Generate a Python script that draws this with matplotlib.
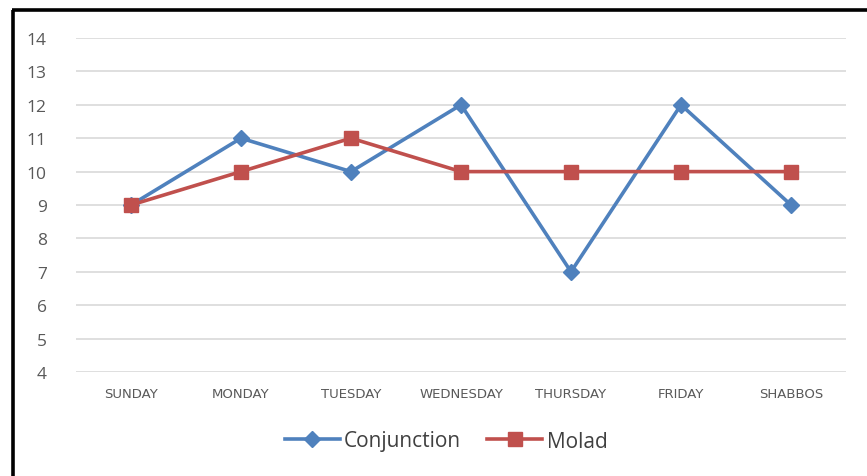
import matplotlib
matplotlib.use("Agg")
import matplotlib.pyplot as plt
from matplotlib.lines import Line2D

days = ["SUNDAY", "MONDAY", "TUESDAY", "WEDNESDAY", "THURSDAY", "FRIDAY", "SHABBOS"]
conjunction = [9, 11, 10, 12, 7, 12, 9]
molad = [9, 10, 11, 10, 10, 10, 10]
yticks = [4, 5, 6, 7, 8, 9, 10, 11, 12, 13, 14]

plt.rcParams['font.family'] = ['Open Sans', 'DejaVu Sans']

fig = plt.figure(figsize=(8.67, 4.77), dpi=100)
ax = fig.add_axes([76/867, 1-373/477, (846-76)/867, (373-39)/477])

blue = "#4F81BD"
red = "#C0504D"
x = list(range(len(days)))
ax.plot(x, conjunction, color=blue, lw=2.6, marker="D", ms=8.5, mfc=blue, mec=blue, label="Conjunction", zorder=3)
ax.plot(x, molad, color=red, lw=2.6, marker="s", ms=9.5, mfc=red, mec=red, label="Molad", zorder=3)

ax.set_xlim(-0.5, len(days)-0.5)
ax.set_ylim(4, 14)
ax.set_yticks(yticks)
ax.set_yticklabels([str(v) for v in yticks], fontsize=12.5, color="#595959")
ax.set_xticks(x)
ax.set_xticklabels(days, fontsize=9.5, color="#595959", family=['DejaVu Sans'])
ax.tick_params(axis='both', length=0)
ax.tick_params(axis='y', pad=21)
ax.tick_params(axis='x', pad=11)
ax.grid(axis='y', color="#D9D9D9", lw=1.2)
ax.set_axisbelow(True)
for s in ax.spines.values():
    s.set_visible(False)

leg = fig.legend(handles=[
    Line2D([0], [0], color=blue, lw=2.6, marker="D", ms=8.5),
    Line2D([0], [0], color=red, lw=2.6, marker="s", ms=9.5)],
    labels=["Conjunction", "Molad"], loc="center", bbox_to_anchor=(446/867, 1-442/477),
    ncol=2, frameon=False, fontsize=15, handlelength=2.65, columnspacing=1.25, handletextpad=0.2,
    labelcolor="#404040")

# black frame lines (left and top)
fig.add_artist(Line2D([13/867, 13/867], [0, 1-11/477], color="black", lw=2.6, transform=fig.transFigure, solid_capstyle='butt'))
fig.add_artist(Line2D([12/867, 1], [1-11/477, 1-11/477], color="black", lw=2.6, transform=fig.transFigure, solid_capstyle='butt'))

fig.savefig("out.png", dpi=100)
